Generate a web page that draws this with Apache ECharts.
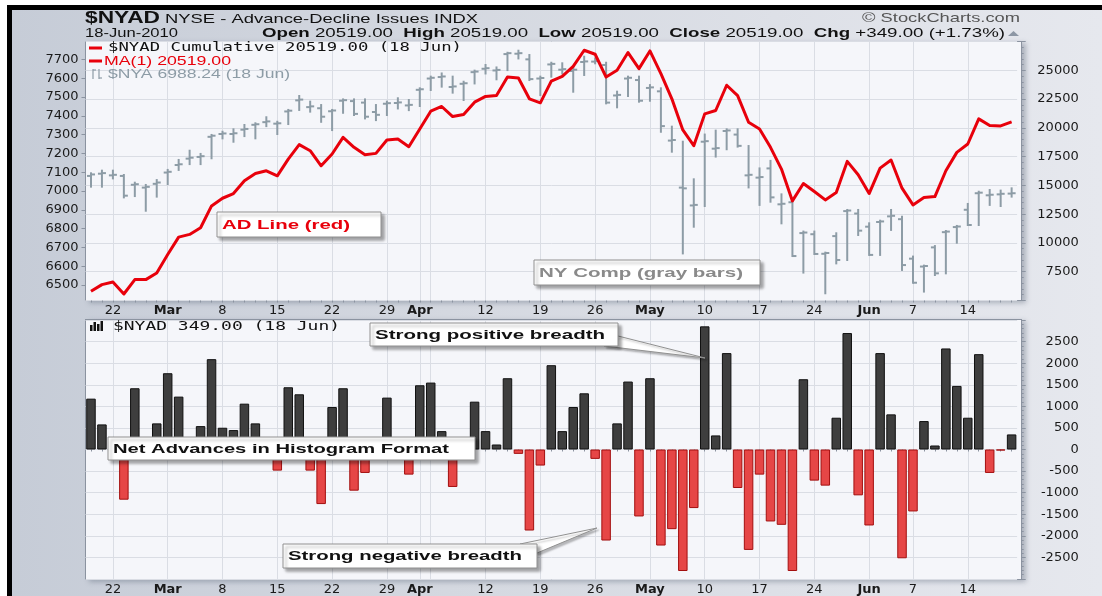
<!DOCTYPE html>
<html>
<head>
<meta charset="utf-8">
<title>$NYAD Advance-Decline</title>
<script src="https://cdn.jsdelivr.net/npm/echarts@6/dist/echarts.min.js"></script>
<style>
  html, body { margin: 0; padding: 0; background: #fff; }
  #frame {
    position: absolute; left: 7px; top: 5px; width: 1095px; height: 591px; box-sizing: border-box;
    border-top: 5px solid #000; border-left: 5px solid #000;
    background: linear-gradient(90deg, #c6ccd7 0%, #d4d8e0 40%, #e6e8ee 100%);
  }
  .panel {
    position: absolute; left: 85px; width: 937px; box-sizing: border-box;
    background: #f5f6fa; border: 1px solid #8b93a0;
    box-shadow: 4px 2px 5px rgba(70, 80, 100, 0.35);
  }
  #p1 { top: 41px; height: 260px; }
  #p2 { top: 319px; height: 261px; }
  #chart { position: absolute; left: 0; top: 0; width: 1102px; height: 596px; }
</style>
</head>
<body>
<div id="frame"></div>
<div class="panel" id="p1"></div>
<div class="panel" id="p2"></div>
<div id="chart"></div>
<script>
// trading days, 18 Feb - 18 Jun 2010
const dates = [
  '02-18', '02-19', '02-22', '02-23', '02-24', '02-25', '02-26',
  '03-01', '03-02', '03-03', '03-04', '03-05', '03-08', '03-09', '03-10', '03-11', '03-12',
  '03-15', '03-16', '03-17', '03-18', '03-19', '03-22', '03-23', '03-24', '03-25', '03-26',
  '03-29', '03-30', '03-31',
  '04-01', '04-05', '04-06', '04-07', '04-08', '04-09', '04-12', '04-13', '04-14', '04-15', '04-16',
  '04-19', '04-20', '04-21', '04-22', '04-23', '04-26', '04-27', '04-28', '04-29', '04-30',
  '05-03', '05-04', '05-05', '05-06', '05-07', '05-10', '05-11', '05-12', '05-13', '05-14',
  '05-17', '05-18', '05-19', '05-20', '05-21', '05-24', '05-25', '05-26', '05-27', '05-28',
  '06-01', '06-02', '06-03', '06-04', '06-07', '06-08', '06-09', '06-10', '06-11',
  '06-14', '06-15', '06-16', '06-17', '06-18'
]

// x axis ticks (gridlines) and their labels
const tickDates = ['02-22', '03-01', '03-08', '03-15', '03-22', '03-29', '04-01', '04-05', '04-12', '04-19',
  '04-26', '05-03', '05-10', '05-17', '05-24', '06-01', '06-07', '06-14']
const tickNames = ['22', 'Mar', '8', '15', '22', '29', 'Apr', '', '12', '19',
  '26', 'May', '10', '17', '24', 'Jun', '7', '14']
const monthNames = ['Mar', 'Apr', 'May', 'Jun']

// $NYA (NY Composite) OHLC bars, left axis
const nyaOpen = [
  7080, 7092, 7083, 7080, 7033, 7018, 7038, 7098, 7138, 7172, 7181, 7288, 7303, 7303, 7326, 7352, 7366,
  7358, 7423, 7482, 7446, 7440, 7424, 7480, 7478, 7470, 7420, 7464, 7468, 7455, 7538, 7598, 7606, 7553,
  7570, 7632, 7650, 7641, 7728, 7730, 7700, 7598, 7673, 7645, 7638, 7686, 7688, 7670, 7508, 7598, 7590,
  7548, 7530, 7268, 7018, 6923, 7262, 7225, 7319, 7300, 7083, 7071, 7120, 6929, 6940, 6776, 6770, 6666,
  6760, 6893, 6880, 6810, 6835, 6865, 6850, 6640, 6598, 6700, 6781, 6808, 6900, 6988, 6977, 6982, 6986
]
const nyaHigh = [
  7094, 7108, 7108, 7085, 7044, 7032, 7058, 7112, 7165, 7214, 7197, 7298, 7315, 7328, 7351, 7360, 7392,
  7368, 7431, 7505, 7475, 7457, 7431, 7487, 7487, 7487, 7457, 7475, 7493, 7484, 7546, 7608, 7625, 7608,
  7581, 7640, 7670, 7657, 7735, 7746, 7723, 7608, 7682, 7679, 7661, 7714, 7705, 7682, 7528, 7608, 7608,
  7563, 7546, 7342, 7262, 7062, 7300, 7321, 7328, 7328, 7239, 7120, 7160, 6982, 6956, 6784, 6784, 6672,
  6775, 6899, 6899, 6828, 6842, 6899, 6863, 6651, 6603, 6707, 6787, 6814, 6931, 6996, 7005, 7002, 7014
]
const nyaLow = [
  7023, 7023, 7067, 6966, 6973, 6895, 6970, 7037, 7112, 7143, 7143, 7174, 7280, 7262, 7292, 7280, 7345,
  7303, 7356, 7431, 7422, 7368, 7324, 7416, 7404, 7386, 7377, 7404, 7439, 7430, 7452, 7537, 7555, 7523,
  7484, 7572, 7625, 7594, 7643, 7705, 7590, 7510, 7608, 7625, 7528, 7617, 7679, 7466, 7445, 7505, 7475,
  7480, 7315, 7209, 6668, 6810, 6920, 7183, 7222, 7236, 7019, 6926, 6943, 6828, 6654, 6566, 6665, 6456,
  6615, 6633, 6766, 6660, 6660, 6793, 6580, 6512, 6465, 6553, 6562, 6725, 6819, 6819, 6926, 6920, 6970
]
const nyaClose = [
  7088, 7095, 7086, 6975, 7036, 7022, 7045, 7102, 7142, 7177, 7185, 7294, 7306, 7307, 7330, 7355, 7370,
  7360, 7427, 7486, 7450, 7395, 7428, 7483, 7410, 7395, 7405, 7467, 7471, 7458, 7541, 7602, 7609, 7556,
  7573, 7635, 7653, 7644, 7733, 7733, 7595, 7601, 7676, 7648, 7645, 7689, 7691, 7470, 7511, 7602, 7480,
  7551, 7345, 7271, 7014, 6926, 7265, 7228, 7322, 7240, 7086, 7074, 6966, 6932, 6654, 6779, 6665, 6670,
  6633, 6896, 6789, 6660, 6838, 6868, 6606, 6512, 6601, 6562, 6784, 6811, 6819, 6991, 6980, 6985, 6988
]

// $NYAD cumulative advance-decline line, right axis
const adLine = [
  5796, 6378, 6611, 5563, 6814, 6814, 7396, 8996, 10509, 10741, 11323, 13214, 13883, 14290, 15396, 16036,
  16268, 15832, 17286, 18537, 18014, 16705, 17723, 19177, 18305, 17665, 17781, 18945, 19032, 18363, 19904,
  21446, 21854, 20981, 21155, 22232, 22726, 22814, 24413, 24326, 22523, 22174, 24064, 24472, 25344, 26741,
  26391, 24413, 24995, 26537, 25141, 26682, 24704, 22523, 19817, 18450, 21213, 21505, 23700, 22800, 20487,
  19905, 18305, 16415, 13651, 15164, 14466, 13738, 14378, 17083, 15920, 14291, 16502, 17200, 14757, 13302,
  13942, 14029, 16269, 17869, 18596, 20778, 20196, 20170, 20519
]

// $NYAD daily net advances (histogram)
const netAdv = [
  1178, 581, 200, -1163, 1419, 50, 605, 1767, 1225, 200, 542, 2093, 504, 450, 1062, 605, 200, -489, 1442,
  1279, -489, -1264, 984, 1419, -954, -543, 100, 1202, 100, -582, 1488, 1550, 426, -868, 150, 1108, 426,
  116, 1651, -101, -1877, -372, 1953, 426, 984, 1302, -217, -2109, 605, 1574, -1551, 1651, -2225, -1845,
  -2815, -1357, 2853, 326, 2233, -892, -2326, -582, -1667, -1745, -2815, 1628, -721, -837, 736, 2698,
  -1062, -1760, 2233, 814, -2520, -1435, 659, 93, 2341, 1473, 736, 2209, -543, -23, 349
]

const AX_FONT = 'DejaVu Sans'
const SANS = '"Liberation Sans", Arial, sans-serif'
const MONO = '"DejaVu Sans Mono", monospace'
const GRID_COLOR = '#dadde4'
const TICK_COLOR = '#8b93a0'

// text measuring, used to stretch header / note texts to the reference widths
const mctx = document.createElement('canvas').getContext('2d')
const textWidth = (str, font) => {
  mctx.font = font
  return mctx.measureText(str).width
}
const fitText = (str, font, x, y, width, fill, z = 100) => ({
  type: 'text',
  x,
  y,
  z,
  scaleX: width / textWidth(str, font),
  style: { text: str, font, fill, textAlign: 'left', textVerticalAlign: 'middle' },
})

// a row of bold / normal pieces stretched together between x0 and x1
const textRow = (pieces, x0, x1, y, size, fill) => {
  const fonts = pieces.map((p) => (p[1] ? 'bold ' : '') + size + 'px ' + SANS)
  const widths = pieces.map((p, i) => textWidth(p[0], fonts[i]))
  const s = (x1 - x0) / widths.reduce((a, b) => a + b, 0)
  let x = x0
  return pieces.map((p, i) => {
    const el = {
      type: 'text', x, y, z: 100, scaleX: s,
      style: { text: p[0], font: fonts[i], fill, textAlign: 'left', textVerticalAlign: 'middle' },
    }
    x += widths[i] * s
    return el
  })
}

// annotation box with shadow
const noteBox = (label, color, bx, by, bw, bh, textW) => [
  {
    type: 'rect', z: 90,
    shape: { x: bx, y: by, width: bw, height: bh },
    style: {
      fill: '#ffffff', stroke: '#909090', lineWidth: 1,
      shadowColor: 'rgba(0,0,0,0.35)', shadowBlur: 3, shadowOffsetX: 3, shadowOffsetY: 3,
    },
  },
  fitText(label, 'bold 13px ' + SANS, bx + 5, by + bh / 2 + 0.5, textW, color, 91),
]

const callout = (points) => ({
  type: 'polygon', z: 89,
  shape: { points },
  style: {
    fill: '#ffffff', stroke: '#909090', lineWidth: 1,
    shadowColor: 'rgba(0,0,0,0.25)', shadowBlur: 2, shadowOffsetX: 2, shadowOffsetY: 2,
  },
})

const plain = (v) => String(v)
const isTick = (idx, val) => tickDates.indexOf(val) >= 0

const xAxisFor = (gridIndex) => ({
  type: 'category',
  gridIndex,
  data: dates,
  boundaryGap: true,
  axisLine: { show: false },
  axisTick: { show: true, interval: 0, alignWithLabel: true, length: 2, lineStyle: { color: TICK_COLOR } },
  axisLabel: {
    interval: isTick,
    margin: 4,
    color: '#1a1a1a',
    fontFamily: AX_FONT,
    fontSize: 13,
    formatter: (val) => {
      const name = tickNames[tickDates.indexOf(val)] || ''
      return monthNames.indexOf(name) >= 0 ? '{m|' + name + '}' : name
    },
    rich: { m: { fontWeight: 'bold', fontFamily: AX_FONT, fontSize: 13, color: '#1a1a1a' } },
  },
  splitLine: { show: true, interval: isTick, alignWithLabel: true, lineStyle: { color: GRID_COLOR } },
})

const rightAxis = (gridIndex, min, max, interval) => ({
  type: 'value',
  gridIndex,
  position: 'right',
  offset: 4.6,
  min,
  max,
  interval,
  axisLine: { show: false },
  axisTick: { show: true, length: 4, lineStyle: { color: TICK_COLOR } },
  minorTick: { show: true, splitNumber: 5, length: 2, lineStyle: { color: TICK_COLOR } },
  splitLine: { show: true, lineStyle: { color: GRID_COLOR } },
  axisLabel: {
    showMinLabel: false,
    showMaxLabel: false,
    align: 'right',
    margin: 57,
    color: '#1a1a1a',
    fontFamily: AX_FONT,
    fontSize: 13,
    formatter: plain,
  },
})

const ohlcData = dates.map((d, i) => [i, nyaOpen[i], nyaHigh[i], nyaLow[i], nyaClose[i]])
const posStyle = { color: '#3e3e3e', borderColor: '#111111', borderWidth: 1 }
const negStyle = { color: '#e64646', borderColor: '#a30f0f', borderWidth: 1 }
const histData = netAdv.map((v) => ({ value: v, itemStyle: v >= 0 ? posStyle : negStyle }))

const chart = echarts.init(document.getElementById('chart'))

const graphics = [
  // header
  ...textRow([['$NYAD', 1]], 85, 160, 18, 17, '#111'),
  ...textRow([['NYSE - Advance-Decline Issues INDX', 0]], 165, 478, 19, 13, '#111'),
  ...textRow([['\u00a9 StockCharts.com', 0]], 862, 1020, 18, 13, '#555'),
  ...textRow([['18-Jun-2010', 0]], 85, 178, 33, 13, '#111'),
  ...textRow(
    [
      ['Open', 1], [' 20519.00  ', 0], ['High', 1], [' 20519.00  ', 0], ['Low', 1], [' 20519.00  ', 0],
      ['Close', 1], [' 20519.00  ', 0], ['Chg', 1], [' +349.00 (+1.73%)', 0],
    ],
    262, 1005, 33, 13, '#111'
  ),
  { type: 'polygon', z: 100, shape: { points: [[1008, 36], [1019, 36], [1013.5, 31]] }, style: { fill: '#8d97a5' } },

  // top panel legend
  { type: 'line', z: 100, shape: { x1: 89, y1: 48, x2: 102, y2: 48 }, style: { stroke: '#e8000b', lineWidth: 3 } },
  fitText('$NYAD Cumulative 20519.00 (18 Jun)', '12px ' + MONO, 108, 48, 354, '#111'),
  { type: 'line', z: 100, shape: { x1: 89, y1: 61, x2: 102, y2: 61 }, style: { stroke: '#e8000b', lineWidth: 3 } },
  fitText('MA(1) 20519.00', '13px ' + SANS, 104, 61.5, 127, '#e8000b'),
  { type: 'line', z: 100, shape: { x1: 93, y1: 69, x2: 93, y2: 79 }, style: { stroke: '#8d9ca6', lineWidth: 1.2 } },
  { type: 'line', z: 100, shape: { x1: 93, y1: 70, x2: 96, y2: 70 }, style: { stroke: '#8d9ca6', lineWidth: 1.2 } },
  { type: 'line', z: 100, shape: { x1: 99, y1: 69, x2: 99, y2: 79 }, style: { stroke: '#8d9ca6', lineWidth: 1.2 } },
  { type: 'line', z: 100, shape: { x1: 99, y1: 78, x2: 102, y2: 78 }, style: { stroke: '#8d9ca6', lineWidth: 1.2 } },
  fitText('$NYA 6988.24 (18 Jun)', '12px ' + SANS, 108, 74.5, 182, '#8d9ca6'),

  // bottom panel legend
  { type: 'rect', z: 100, shape: { x: 90, y: 325, width: 2.5, height: 6 }, style: { fill: '#111' } },
  { type: 'rect', z: 100, shape: { x: 93.5, y: 322, width: 2.5, height: 9 }, style: { fill: '#111' } },
  { type: 'rect', z: 100, shape: { x: 97, y: 324, width: 2.5, height: 7 }, style: { fill: '#111' } },
  { type: 'rect', z: 100, shape: { x: 100.5, y: 321, width: 2.5, height: 10 }, style: { fill: '#111' } },
  fitText('$NYAD 349.00 (18 Jun)', '12px ' + MONO, 113, 327, 227, '#111'),

  // notes
  ...noteBox('AD Line (red)', '#e8000b', 217, 212, 164, 25, 128),
  ...noteBox('NY Comp (gray bars)', '#8a8a8a', 534, 260, 226, 25, 204),
  callout([[604, 346], [618, 336], [705, 358]]),
  ...noteBox('Strong positive breadth', '#111', 370, 323, 248, 23, 230),
  ...noteBox('Net Advances in Histogram Format', '#111', 108, 437, 367, 23, 336),
  callout([[520, 544], [537, 553], [597, 528]]),
  ...noteBox('Strong negative breadth', '#111', 283, 544, 254, 24, 234),
]

const option = {
  animation: false,
  grid: [
    { left: 85.5, top: 41.5, width: 931.6, height: 259 },
    { left: 85.5, top: 320, width: 931.6, height: 259 },
  ],
  xAxis: [xAxisFor(0), xAxisFor(1)],
  yAxis: [
    {
      // $NYA price scale
      type: 'value',
      gridIndex: 0,
      position: 'left',
      min: 6417.5,
      max: 7795,
      splitNumber: 13,
      axisLine: { show: false },
      axisTick: { show: true, length: 4, lineStyle: { color: TICK_COLOR } },
      splitLine: { show: false },
      axisLabel: {
        showMinLabel: false,
        showMaxLabel: false,
        margin: 7,
        color: '#1a1a1a',
        fontFamily: AX_FONT,
        fontSize: 13,
        formatter: plain,
      },
    },
    rightAxis(0, 5000, 27500, 2500),
    rightAxis(1, -3000, 3000, 500),
  ],
  graphic: graphics,
  series: [
    {
      name: '$NYA',
      type: 'custom',
      xAxisIndex: 0,
      yAxisIndex: 0,
      data: ohlcData,
      encode: { x: 0, y: [1, 2, 3, 4] },
      z: 3,
      renderItem: (params, api) => {
        const i = api.value(0)
        const o = api.coord([i, api.value(1)])
        const h = api.coord([i, api.value(2)])
        const l = api.coord([i, api.value(3)])
        const c = api.coord([i, api.value(4)])
        const st = { stroke: '#8d9ca6', lineWidth: 2 }
        return {
          type: 'group',
          children: [
            { type: 'line', shape: { x1: h[0], y1: h[1] - 1, x2: l[0], y2: l[1] + 1 }, style: st },
            { type: 'line', shape: { x1: o[0] - 4, y1: o[1], x2: o[0], y2: o[1] }, style: st },
            { type: 'line', shape: { x1: c[0], y1: c[1], x2: c[0] + 4, y2: c[1] }, style: st },
          ],
        }
      },
    },
    {
      name: '$NYAD Cumulative',
      type: 'line',
      xAxisIndex: 0,
      yAxisIndex: 1,
      data: adLine,
      symbol: 'none',
      z: 5,
      lineStyle: { color: '#e8000b', width: 3, join: 'round' },
    },
    {
      name: '$NYAD',
      type: 'bar',
      xAxisIndex: 1,
      yAxisIndex: 2,
      data: histData,
      barWidth: 9.5,
      z: 3,
    },
  ],
}

chart.setOption(option)
</script>
</body>
</html>
